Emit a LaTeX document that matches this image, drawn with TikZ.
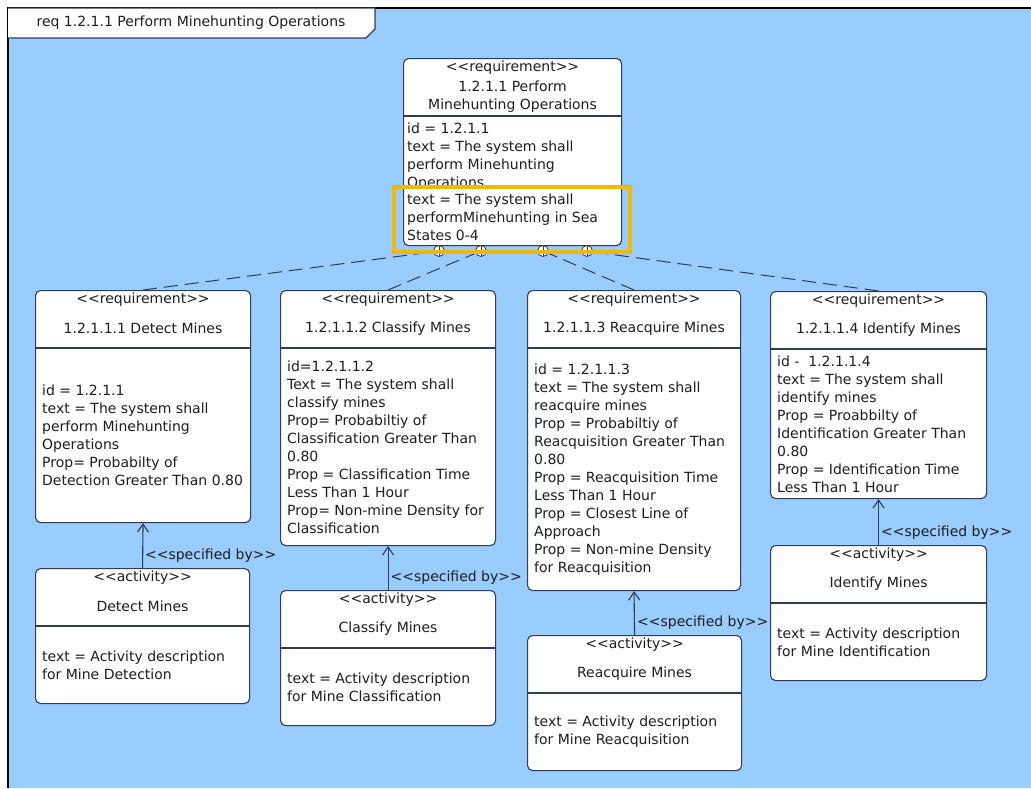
\documentclass[tikz,border=0pt]{standalone}
\usepackage{fontspec}
\setmainfont{DejaVu Sans}
\usepackage{tikz}
\usetikzlibrary{arrows.meta, calc}
\definecolor{canvas}{RGB}{153, 204, 255}
\definecolor{umlline}{RGB}{50, 60, 80}
\definecolor{umltext}{RGB}{30, 30, 30}
\definecolor{highlight}{RGB}{242, 183, 0}
\newcommand{\ster}[1]{<\kern0pt<#1>\kern0pt>}
\tikzset{
  blk/.style={draw=umlline, fill=white, line width=1.1pt, rounded corners=5pt},
  ln/.style={draw=umlline, line width=1.1pt},
  txt/.style={font=\fontsize{14}{18}\selectfont, text=umltext, inner sep=2pt},
  derive/.style={draw=umlline, line width=1pt, dash pattern=on 14pt off 7pt},
  spec/.style={draw=umlline, line width=1.1pt, -{Straight Barb[length=8pt, width=11pt]}},
  contain/.style={circle, draw=umlline, fill=white, line width=0.8pt,
    minimum size=11pt, inner sep=0pt,
    path picture={\draw[umlline] (path picture bounding box.north) -- (path picture bounding box.south)
      (path picture bounding box.west) -- (path picture bounding box.east);}},
}
% name, x, top, width, height, stereotype, title, body
\newcommand{\umlbox}[8]{%
  \node[blk, anchor=north west, minimum width=#4pt, minimum height=#5pt] (#1) at (#2,#3) {};
  \draw[ln] ($(#1.north west)+(0,58)$) -- ($(#1.north east)+(0,58)$);
  \node[txt] at ($(#1.north)+(0,9.5)$) {\ster{#6}};
  \node[txt, align=center] at ($(#1.north)+(0,38.5)$) {#7};
  \node[txt, align=left, anchor=west] at ($(#1.west)+(5,29)$) {#8};
}

\begin{document}
\begin{tikzpicture}[x=1pt, y=-1pt]
  \useasboundingbox (0,0) rectangle (1031,788);
  % frame
  \fill[canvas] (8,8) rectangle (1031,788);
  \draw[black, line width=2.5pt] (8,788) -- (8,8) -- (1031,8);
  \draw[umlline, fill=white, line width=1.2pt] (8,8) -- (375,8) -- (375,29) -- (366,38) -- (8,38);
  \node[txt] (frametitle) at (191,23) {req 1.2.1.1 Perform Minehunting Operations};

  % top requirement
  \umlbox{perform}{403}{58}{218}{187}{requirement}{1.2.1.1 Perform\\Minehunting Operations}{}
  \begin{scope}
    \clip (403,118) rectangle (621,184);
    \node[txt, align=left, anchor=west] (performtext) at (405,157)
      {id = 1.2.1.1\\text = The system shall\\perform Minehunting\\Operations};
  \end{scope}
  \node[txt, align=left, anchor=west] (performsea) at (405,217)
    {text = The system shall\\performMinehunting in Sea\\States 0-4};

  % sub requirements
  \umlbox{detect}{35}{290}{215}{232}{requirement}{1.2.1.1.1 Detect Mines}
    {id = 1.2.1.1\\text = The system shall\\perform Minehunting\\Operations\\Prop= Probabilty of\\Detection Greater Than 0.80}
  \umlbox{classify}{280}{290}{215}{255}{requirement}{1.2.1.1.2 Classify Mines}
    {id=1.2.1.1.2\\Text = The system shall\\classify mines\\Prop= Probabiltiy of\\Classification Greater Than\\0.80\\Prop = Classification Time\\Less Than 1 Hour\\Prop= Non-mine Density for\\Classification}
  \umlbox{reacquire}{527}{290}{213}{300}{requirement}{1.2.1.1.3 Reacquire Mines}
    {id = 1.2.1.1.3\\text = The system shall\\reacquire mines\\Prop = Probabiltiy of\\Reacquisition Greater Than\\0.80\\Prop = Reacquisition Time\\Less Than 1 Hour\\Prop = Closest Line of\\Approach\\Prop = Non-mine Density\\for Reacquisition}
  \umlbox{identify}{770}{291}{216}{207}{requirement}{1.2.1.1.4 Identify Mines}
    {id -~ 1.2.1.1.4\\text = The system shall\\identify mines\\Prop = Proabbilty of\\Identification Greater Than\\0.80\\Prop = Identification Time\\Less Than 1 Hour}

  % activities
  \umlbox{actdetect}{35}{568}{214}{135}{activity}{Detect Mines}
    {text = Activity description\\for Mine Detection}
  \umlbox{actclassify}{280}{590}{215}{135}{activity}{Classify Mines}
    {text = Activity description\\for Mine Classification}
  \umlbox{actreacquire}{527}{635}{214}{135}{activity}{Reacquire Mines}
    {text = Activity description\\for Mine Reacquisition}
  \umlbox{actidentify}{770}{545}{216}{135}{activity}{Identify Mines}
    {text = Activity description\\for Mine Identification}

  % containment
  \node[contain] (k1) at (439,251) {};
  \node[contain] (k2) at (481,251) {};
  \node[contain] (k3) at (543,251) {};
  \node[contain] (k4) at (587,251) {};
  \draw[derive] (detect.north) -- (k1);
  \draw[derive] (classify.north) -- (k2);
  \draw[derive] (reacquire.north) -- (k3);
  \draw[derive] (identify.north) -- (k4);

  % specified by
  \draw[spec] (actdetect.north) -- (detect.south)
    node[pos=0, txt, anchor=west, yshift=12pt] {\ster{specified by}};
  \draw[spec] (actclassify.north) -- (classify.south)
    node[pos=0, txt, anchor=west, yshift=12pt] {\ster{specified by}};
  \draw[spec] (actreacquire.north) -- (reacquire.south)
    node[pos=0, txt, anchor=west, yshift=12pt] {\ster{specified by}};
  \draw[spec] (actidentify.north) -- (identify.south)
    node[pos=0, txt, anchor=west, yshift=12pt] {\ster{specified by}};

  % highlight
  \draw[highlight, line width=4pt] (394,187) rectangle (630,252);
\end{tikzpicture}
\end{document}
